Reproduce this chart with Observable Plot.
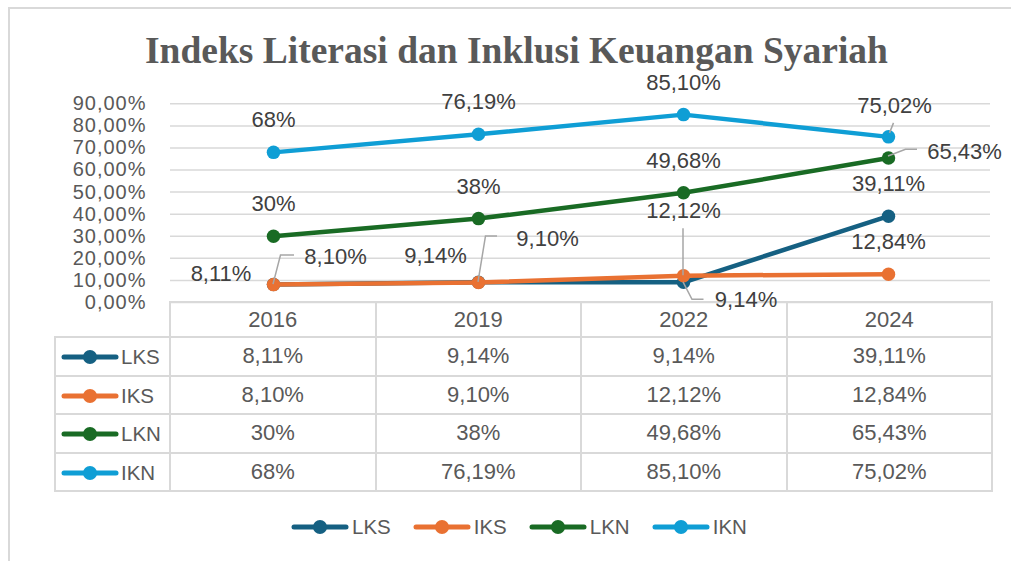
<!DOCTYPE html>
<html><head><meta charset="utf-8">
<script src="https://cdn.jsdelivr.net/npm/d3@7"></script>
<script src="https://cdn.jsdelivr.net/npm/@observablehq/plot@0.6"></script>
<style>
body{margin:0;background:#fff;}
#wrap{position:relative;width:1011px;height:561px;overflow:hidden;background:#fff;font-family:"Liberation Sans",Arial,sans-serif;color:#595959;}
#frame{position:absolute;left:8px;top:7px;width:1100px;height:700px;border-top:2px solid #d9d9d9;border-left:2px solid #d9d9d9;}
#title{position:absolute;left:0;width:1033px;top:31.5px;text-align:center;font-family:"Liberation Serif","Times New Roman",serif;font-weight:bold;font-size:37.5px;line-height:1;color:#595959;margin:0;white-space:nowrap;}
#chart{position:absolute;left:0;top:70px;z-index:2;}
#tbl{position:absolute;left:54px;top:301px;border-collapse:collapse;table-layout:fixed;font-size:22px;color:#595959;}
#tbl td{border:2px solid #d9d9d9;text-align:center;padding:0;white-space:nowrap;}
#tbl tr.head td{height:33px;}
#tbl tr.body td{height:36.5px;}
#tbl td.empty{border:none;}
#tbl td.key{text-align:left;padding-left:5px;font-size:20.5px;}
#tbl td.key svg,#legend svg{vertical-align:middle;}
#tbl td.key span{vertical-align:middle;margin-left:2px;}
#legend{position:absolute;left:291px;top:516px;height:22px;display:flex;align-items:center;font-size:20.5px;color:#595959;}
#legend .item{display:flex;align-items:center;margin-right:22px;}
#legend .item span{margin-left:3px;}
</style>
</head><body>
<div id="wrap">
  <div id="frame"></div>
  <div id="title">Indeks Literasi dan Inklusi Keuangan Syariah</div>
  <div id="chart"></div>
  <table id="tbl"></table>
  <div id="legend"></div>
</div>
<script>
// ---- data ----
const years = ["2016", "2019", "2022", "2024"];
const seriesNames = ["LKS", "IKS", "LKN", "IKN"];
const LKS = [8.11, 9.14, 9.14, 39.11];
const IKS = [8.10, 9.10, 12.12, 12.84];
const LKN = [30, 38, 49.68, 65.43];
const IKN = [68, 76.19, 85.10, 75.02];
const yTicks = [0, 10, 20, 30, 40, 50, 60, 70, 80, 90];

// ---- styles ----
const colors = {LKS: "#156082", IKS: "#E97132", LKN: "#196B24", IKN: "#0F9ED5"};
const valuesBySeries = {LKS, IKS, LKN, IKN};
const rows = seriesNames.flatMap(s => years.map((year, i) => ({series: s, year, value: valuesBySeries[s][i]})));

const fmt = v => Number.isInteger(v) ? `${v}%` : `${v.toFixed(2).replace(".", ",")}%`;
const fmtAxis = v => `${v.toFixed(2).replace(".", ",")}%`;

// label placement (pixel offsets from the point); default is above the point
const placement = {
  "LKS|2016": {dx: -52.5, dy: -11},
  "LKS|2019": {dx: -43, dy: -26},
  "LKS|2022": {dx: 62.5, dy: 18, leader: [[0, 0], [9, 17.5], [20.5, 17.5]]},
  "IKS|2016": {dx: 62, dy: -27.5, leader: [[0, 0], [7.5, -29], [21, -29]]},
  "IKS|2019": {dx: 69, dy: -43.5, leader: [[0, 0], [7.5, -46], [19, -46]]},
  "IKS|2022": {dx: 0, dy: -65, leader: [[0, 0], [0, -47]]},
  "IKN|2024": {dx: 6, dy: -30.5, leader: [[1.5, -3.5], [5.5, -13.5]]},
  "LKN|2024": {dx: 76, dy: -6.5, leader: [[0, -1.5], [17.5, -8.2], [29, -8.2]]}
};
const defaultPlacement = {dx: 0, dy: -32};

function leaders(index, scales) {
  const g = d3.create("svg:g").attr("fill", "none").attr("stroke", "#a6a6a6").attr("stroke-width", 1.5);
  for (const r of rows) {
    const p = placement[`${r.series}|${r.year}`];
    if (!p || !p.leader) continue;
    const x0 = scales.x(r.year), y0 = scales.y(r.value);
    g.append("path").attr("d", d3.line()(p.leader.map(([dx, dy]) => [x0 + dx, y0 + dy])));
  }
  return g.node();
}

const seriesMarks = seriesNames.flatMap(s => {
  const d = rows.filter(r => r.series === s);
  return [
    Plot.line(d, {x: "year", y: "value", stroke: colors[s], strokeWidth: 4.5, strokeLinejoin: "round", strokeLinecap: "round"}),
    Plot.dot(d, {x: "year", y: "value", fill: colors[s], r: 6.75, stroke: null})
  ];
});

const labelMarks = rows.map(r => {
  const p = placement[`${r.series}|${r.year}`] || defaultPlacement;
  return Plot.text([r], {x: "year", y: "value", text: d => fmt(d.value), dx: p.dx, dy: p.dy, fill: "#404040", fontSize: 22});
});

const chart = Plot.plot({
  width: 1011,
  height: 245,
  marginLeft: 170,
  marginRight: 21,
  marginTop: 33.3,
  marginBottom: 13,
  x: {type: "point", domain: years, padding: 0.5, axis: null},
  y: {domain: [0, 90]},
  style: {fontFamily: '"Liberation Sans", Arial, sans-serif', fontSize: "22px", color: "#595959", background: "transparent", overflow: "visible"},
  marks: [
    Plot.gridY(yTicks, {stroke: "#d9d9d9", strokeOpacity: 1, strokeWidth: 1.5}),
    Plot.axisY(yTicks, {tickSize: 0, tickPadding: 24, tickFormat: fmtAxis, label: null, fontSize: 20, fill: "#595959"}),
    ...seriesMarks,
    leaders,
    ...labelMarks
  ]
});
chart.querySelectorAll('[aria-label="y-axis tick label"] text').forEach(t => t.setAttribute("letter-spacing", "1"));
document.getElementById("chart").appendChild(chart);

// ---- data table ----
const swatch = (c, w) => `<svg width="${w}" height="16"><line x1="3" x2="${w - 3}" y1="8" y2="8" stroke="${c}" stroke-width="5" stroke-linecap="round"/><circle cx="${w / 2}" cy="8" r="7" fill="${c}"/></svg>`;
const tbl = document.getElementById("tbl");
let html = `<colgroup><col style="width:115px">${years.map(() => '<col style="width:205.5px">').join("")}</colgroup>`;
html += `<tr class="head"><td class="empty"></td>${years.map(y => `<td>${y}</td>`).join("")}</tr>`;
for (const s of seriesNames) {
  html += `<tr class="body"><td class="key">${swatch(colors[s], 58)}<span>${s}</span></td>${valuesBySeries[s].map(v => `<td>${fmt(v)}</td>`).join("")}</tr>`;
}
tbl.innerHTML = html;

// ---- legend ----
document.getElementById("legend").innerHTML = seriesNames.map(s =>
  `<div class="item">${swatch(colors[s], 58)}<span>${s}</span></div>`).join("");
</script>
</body></html>
